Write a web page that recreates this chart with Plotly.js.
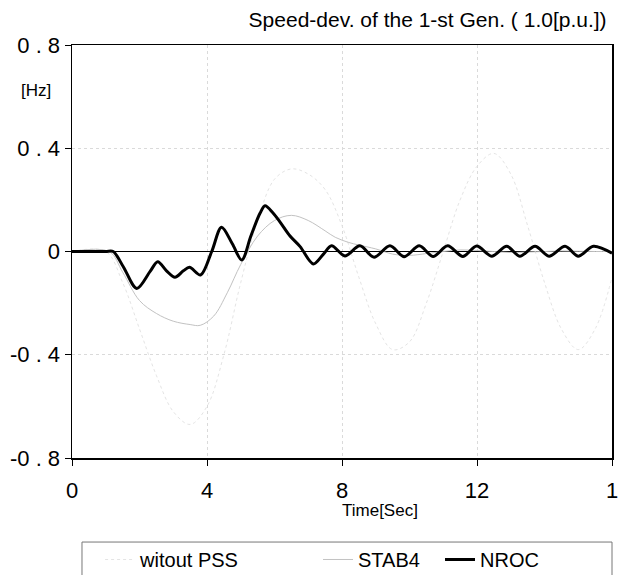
<!DOCTYPE html>
<html>
<head>
<meta charset="utf-8">
<script src="https://cdn.plot.ly/plotly-3.0.1.min.js"></script>
<style>html,body{margin:0;padding:0;background:#fff;overflow:hidden}</style>
</head>
<body>
<div id="chart" style="width:621px;height:575px"></div>
<script>
// ---- data ----
var seriesNames = ["witout PSS", "STAB4", "NROC"];

var timeNoPss = [0, 1.0, 1.5, 2.0, 2.5, 3.0, 3.5, 4.0, 4.5, 5.0, 5.5, 6.0, 6.5, 7.0, 7.5, 8.0, 8.5, 9.0, 9.5, 10.0, 10.5, 11.0, 11.5, 12.0, 12.5, 13.0, 13.5, 14.0, 14.5, 15.0, 15.5, 16.0];
var speedNoPss = [0, 0, -0.12, -0.3, -0.48, -0.62, -0.67, -0.6, -0.4, -0.12, 0.12, 0.28, 0.32, 0.3, 0.24, 0.1, -0.1, -0.28, -0.38, -0.35, -0.2, 0.0, 0.2, 0.33, 0.38, 0.3, 0.1, -0.12, -0.3, -0.38, -0.3, -0.1];

var timeStab4 = [0, 1.1, 1.5, 2.0, 2.5, 3.0, 3.5, 3.8, 4.2, 4.6, 5.0, 5.5, 6.0, 6.5, 7.0, 7.5, 7.8, 8.2, 8.5, 9.0, 9.5, 10.0, 10.5, 11.0, 11.5, 12.0, 12.5, 13.0, 13.5, 14.0, 14.5, 15.0, 15.5, 16.0];
var speedStab4 = [0, 0, -0.08, -0.19, -0.24, -0.27, -0.283, -0.286, -0.25, -0.16, -0.05, 0.06, 0.12, 0.14, 0.12, 0.08, 0.055, 0.035, 0.025, 0.01, -0.01, -0.015, -0.008, 0.0, 0.006, 0.004, 0.0, -0.004, -0.002, 0.0, 0.002, 0.001, 0.0, 0.0];

var timeNroc = [0, 0.5, 1.0, 1.22, 1.52, 1.92, 2.31, 2.54, 2.8, 3.05, 3.3, 3.48, 3.81, 4.14, 4.43, 4.75, 5.03, 5.3, 5.57, 5.72, 5.95, 6.16, 6.46, 6.76, 7.15, 7.45, 7.69, 8.09, 8.53, 8.95, 9.42, 9.84, 10.29, 10.70, 11.13, 11.58, 11.99, 12.44, 12.88, 13.27, 13.72, 14.14, 14.61, 15.0, 15.45, 16.0];
var speedNroc = [0, 0, 0, 0, -0.059, -0.143, -0.078, -0.04, -0.075, -0.1, -0.075, -0.061, -0.091, 0.0, 0.094, 0.03, -0.033, 0.06, 0.148, 0.177, 0.15, 0.115, 0.06, 0.019, -0.048, -0.01, 0.022, -0.017, 0.022, -0.022, 0.022, -0.02, 0.022, -0.019, 0.022, -0.019, 0.021, -0.018, 0.02, -0.018, 0.02, -0.018, 0.02, -0.018, 0.02, -0.007];

var yTickVals = [-0.8, -0.4, 0, 0.4, 0.8];
var yTickText = ["-0 . 8", "-0 . 4", "0", "0 . 4", "0 . 8"];
var xTickVals = [0, 4, 8, 12, 16];
var xTickText = ["0", "4", "8", "12", "1"];

var FONT = "Liberation Sans, Arial, sans-serif";

var traces = [
  {x: timeNoPss, y: speedNoPss, name: seriesNames[0], mode: "lines", legend: "legend",
   line: {color: "#e4e4e4", width: 1, dash: "dot", shape: "spline"}},
  {x: timeStab4, y: speedStab4, name: seriesNames[1], mode: "lines", legend: "legend2",
   line: {color: "#c2c2c2", width: 1, shape: "spline"}},
  {x: timeNroc, y: speedNroc, name: seriesNames[2], mode: "lines", legend: "legend3",
   line: {color: "#000", width: 3, shape: "spline", smoothing: 0.9}}
];

function legendAt(xp) {
  return {orientation: "h", x: xp, xanchor: "left", y: -0.1985, yanchor: "top",
          font: {family: FONT, size: 20, color: "#000"},
          bgcolor: "rgba(0,0,0,0)", borderwidth: 0};
}

var layout = {
  width: 621, height: 575,
  margin: {l: 72, r: 9, t: 45, b: 117, autoexpand: false},
  paper_bgcolor: "#fff", plot_bgcolor: "#fff",
  font: {family: FONT, color: "#000"},
  showlegend: true,
  title: {text: "Speed-dev. of the 1-st Gen. ( 1.0[p.u.])",
          font: {family: FONT, size: 21, color: "#000"},
          xref: "paper", x: 0.99, xanchor: "right",
          yref: "container", y: 0.965, yanchor: "middle"},
  xaxis: {range: [0, 16], tickvals: xTickVals, ticktext: xTickText,
          ticks: "outside", ticklen: 6, tickwidth: 1, tickcolor: "#000",
          showline: true, linecolor: "#000", linewidth: 1.5, mirror: true,
          showgrid: true, gridcolor: "#dadada", griddash: "dot", gridwidth: 1,
          zeroline: false, ticklabelstandoff: 6, ticklabeloverflow: "allow",
          automargin: false,
          tickfont: {family: FONT, size: 22, color: "#000"}},
  yaxis: {range: [-0.8, 0.8], tickvals: yTickVals, ticktext: yTickText,
          ticks: "outside", ticklen: 6, tickwidth: 1, tickcolor: "#000",
          showline: true, linecolor: "#000", linewidth: 1.5, mirror: true,
          showgrid: true, gridcolor: "#dadada", griddash: "dot", gridwidth: 1,
          zeroline: true, zerolinecolor: "#000", zerolinewidth: 1.5,
          automargin: false,
          tickfont: {family: FONT, size: 22, color: "#000"}},
  legend: legendAt(0.052),
  legend2: legendAt(0.4556),
  legend3: legendAt(0.6815),
  annotations: [
    {text: "[Hz]", xref: "paper", yref: "paper", x: -0.067, y: 0.889,
     xanchor: "center", yanchor: "middle", showarrow: false,
     font: {family: FONT, size: 17, color: "#000"}},
    {text: "Time[Sec]", xref: "paper", yref: "paper", x: 0.57, y: -0.128,
     xanchor: "center", yanchor: "middle", showarrow: false,
     font: {family: FONT, size: 17, color: "#000"}}
  ],
  shapes: [
    {type: "rect", xref: "paper", yref: "paper", x0: 0.0185, x1: 1.0, y0: -0.31, y1: -0.2035,
     line: {color: "#777", width: 1}, fillcolor: "rgba(0,0,0,0)", layer: "below"}
  ]
};

Plotly.newPlot("chart", traces, layout, {staticPlot: true, displayModeBar: false});
</script>
</body>
</html>
